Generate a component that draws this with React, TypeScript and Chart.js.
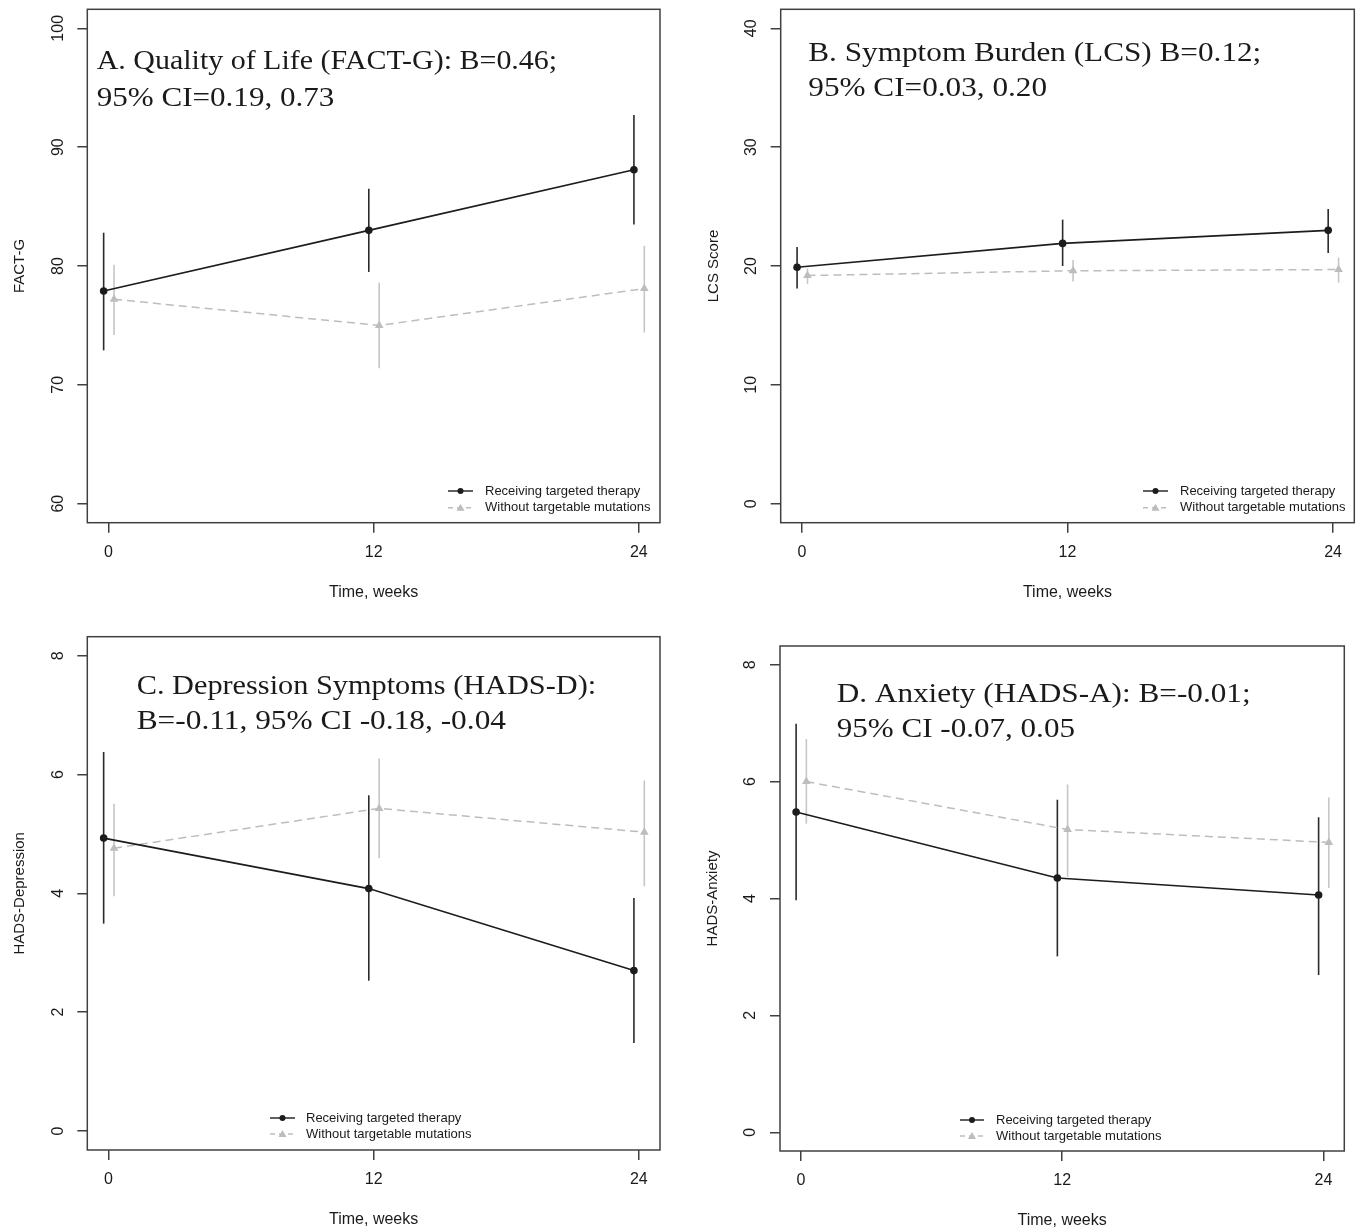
import React, { useEffect, useRef } from "react";
import { Chart, registerables } from "chart.js";

Chart.register(...registerables);

// ---------- data ----------
const xTickValues = [0, 12, 24];
const targetedWeeks = [-0.22, 11.78, 23.78];
const noMutWeeks = [0.25, 12.25, 24.25];
const seriesLabels = ["Receiving targeted therapy", "Without targetable mutations"];

// A. Quality of Life (FACT-G)
const qolYTicks = [60, 70, 80, 90, 100];
const qolTargeted = [77.9, 83.0, 88.1];
const qolTargetedLow = [72.9, 79.5, 83.5];
const qolTargetedHigh = [82.8, 86.5, 92.7];
const qolNoMut = [77.2, 75.0, 78.1];
const qolNoMutLow = [74.2, 71.4, 74.4];
const qolNoMutHigh = [80.1, 78.6, 81.7];

// B. Symptom Burden (LCS)
const lcsYTicks = [0, 10, 20, 30, 40];
const lcsTargeted = [19.9, 21.9, 23.0];
const lcsTargetedLow = [18.1, 20.0, 21.1];
const lcsTargetedHigh = [21.6, 23.9, 24.8];
const lcsNoMut = [19.2, 19.6, 19.7];
const lcsNoMutLow = [18.5, 18.7, 18.6];
const lcsNoMutHigh = [19.8, 20.5, 20.7];

// C. Depression (HADS-D)
const depYTicks = [0, 2, 4, 6, 8];
const depTargeted = [4.93, 4.08, 2.7];
const depTargetedLow = [3.49, 2.53, 1.48];
const depTargetedHigh = [6.38, 5.65, 3.92];
const depNoMut = [4.76, 5.43, 5.03];
const depNoMutLow = [3.95, 4.59, 4.12];
const depNoMutHigh = [5.51, 6.27, 5.9];

// D. Anxiety (HADS-A)
const anxYTicks = [0, 2, 4, 6, 8];
const anxTargeted = [5.48, 4.35, 4.06];
const anxTargetedLow = [3.97, 3.01, 2.69];
const anxTargetedHigh = [6.99, 5.69, 5.39];
const anxNoMut = [6.0, 5.18, 4.96];
const anxNoMutLow = [5.28, 4.37, 4.18];
const anxNoMutHigh = [6.73, 5.95, 5.73];

const titleA = ["A. Quality of Life (FACT-G): B=0.46;", "95% CI=0.19, 0.73"];
const titleB = ["B. Symptom Burden (LCS) B=0.12;", "95% CI=0.03, 0.20"];
const titleC = ["C. Depression Symptoms (HADS-D):", "B=-0.11, 95% CI -0.18, -0.04"];
const titleD = ["D. Anxiety (HADS-A): B=-0.01;", "95% CI -0.07, 0.05"];

// ---------- styles ----------
const BLACK = "#1c1c1c";
const GRAY = "#bdbdbd";
const GRAY_BAR = "#c6c6c6";
const AXIS = "#404040";
const TEXT = "#1a1a1a";
const SANS = '"Liberation Sans", Arial, sans-serif';
const SERIF = '"Liberation Serif", "Times New Roman", serif';
const TITLE_SIZE = 28;

type Series = { xs: number[]; mean: number[]; low: number[]; high: number[] };

type PanelCfg = {
  left: number; top: number; width: number; height: number;
  boxLeft: number; boxTop: number; boxRight: number; boxBottom: number;
  xMin: number; xMax: number;
  yMin: number; yMax: number; yTicks: number[]; yTitle: string;
  title: string[]; titleX: number; titleY: number[]; titleStretch: number[];
  legendY: number[]; legendX1: number; legendX2: number; legendTextX: number;
  targeted: Series; noMut: Series;
};

const panels: PanelCfg[] = [
  {
    left: 0, top: 0, width: 681, height: 615,
    boxLeft: 87.3, boxTop: 9.3, boxRight: 660, boxBottom: 522.7,
    xMin: -0.96, xMax: 24.96,
    yMin: 58.4, yMax: 101.6, yTicks: qolYTicks, yTitle: "FACT-G",
    title: titleA, titleX: 9.4, titleY: [59.5, 96.5], titleStretch: [1.07, 1.11],
    legendY: [491, 507.7], legendX1: 448, legendX2: 473, legendTextX: 485,
    targeted: { xs: targetedWeeks, mean: qolTargeted, low: qolTargetedLow, high: qolTargetedHigh },
    noMut: { xs: noMutWeeks, mean: qolNoMut, low: qolNoMutLow, high: qolNoMutHigh },
  },
  {
    left: 681, top: 0, width: 681, height: 615,
    boxLeft: 99.7, boxTop: 9.3, boxRight: 673.3, boxBottom: 522.7,
    xMin: -0.96, xMax: 24.96,
    yMin: -1.6, yMax: 41.6, yTicks: lcsYTicks, yTitle: "LCS Score",
    title: titleB, titleX: 27.6, titleY: [52, 87], titleStretch: [1.115, 1.115],
    legendY: [491, 507.7], legendX1: 462, legendX2: 487, legendTextX: 499,
    targeted: { xs: targetedWeeks, mean: lcsTargeted, low: lcsTargetedLow, high: lcsTargetedHigh },
    noMut: { xs: noMutWeeks, mean: lcsNoMut, low: lcsNoMutLow, high: lcsNoMutHigh },
  },
  {
    left: 0, top: 615, width: 681, height: 615,
    boxLeft: 87.3, boxTop: 21.7, boxRight: 660, boxBottom: 535,
    xMin: -0.96, xMax: 24.96,
    yMin: -0.32, yMax: 8.32, yTicks: depYTicks, yTitle: "HADS-Depression",
    title: titleC, titleX: 49.4, titleY: [57.5, 92.5], titleStretch: [1.082, 1.12],
    legendY: [503, 519], legendX1: 270, legendX2: 295, legendTextX: 306,
    targeted: { xs: targetedWeeks, mean: depTargeted, low: depTargetedLow, high: depTargetedHigh },
    noMut: { xs: noMutWeeks, mean: depNoMut, low: depNoMutLow, high: depNoMutHigh },
  },
  {
    left: 681, top: 615, width: 681, height: 615,
    boxLeft: 99, boxTop: 31, boxRight: 663.3, boxBottom: 536,
    xMin: -0.96, xMax: 24.96,
    yMin: -0.32, yMax: 8.32, yTicks: anxYTicks, yTitle: "HADS-Anxiety",
    title: titleD, titleX: 56.7, titleY: [56, 91], titleStretch: [1.115, 1.11],
    legendY: [505, 521], legendX1: 279, legendX2: 303, legendTextX: 315,
    targeted: { xs: targetedWeeks, mean: anxTargeted, low: anxTargetedLow, high: anxTargetedHigh },
    noMut: { xs: noMutWeeks, mean: anxNoMut, low: anxNoMutLow, high: anxNoMutHigh },
  },
];

function makeDecor(cfg: PanelCfg) {
  return {
    id: "decor",
    beforeDatasetsDraw(chart: any) {
      const ctx = chart.ctx;
      const xs = chart.scales.x;
      const ys = chart.scales.y;
      ctx.save();
      const bars: [Series, string][] = [[cfg.noMut, GRAY_BAR], [cfg.targeted, "#2a2a2a"]];
      for (const [s, col] of bars) {
        ctx.strokeStyle = col;
        ctx.lineWidth = 1.6;
        for (let i = 0; i < s.xs.length; i++) {
          const px = xs.getPixelForValue(s.xs[i]);
          ctx.beginPath();
          ctx.moveTo(px, ys.getPixelForValue(s.low[i]));
          ctx.lineTo(px, ys.getPixelForValue(s.high[i]));
          ctx.stroke();
        }
      }
      ctx.restore();
    },
    afterDraw(chart: any) {
      const ctx = chart.ctx;
      const a = chart.chartArea;
      const xs = chart.scales.x;
      const ys = chart.scales.y;
      ctx.save();
      // box
      ctx.strokeStyle = AXIS;
      ctx.lineWidth = 1.5;
      ctx.strokeRect(a.left, a.top, a.right - a.left, a.bottom - a.top);
      // y tick labels (rotated)
      ctx.fillStyle = TEXT;
      ctx.font = `16px ${SANS}`;
      ctx.textAlign = "center";
      ctx.textBaseline = "middle";
      for (const t of ys.ticks) {
        const py = ys.getPixelForValue(t.value);
        ctx.save();
        ctx.translate(a.left - 29, py);
        ctx.rotate(-Math.PI / 2);
        ctx.fillText(String(t.value), 0, 0);
        ctx.restore();
      }
      // y title
      ctx.save();
      ctx.translate(a.left - 67, (a.top + a.bottom) / 2);
      ctx.rotate(-Math.PI / 2);
      ctx.font = `15px ${SANS}`;
      ctx.fillText(cfg.yTitle, 0, 0);
      ctx.restore();
      // x tick labels
      ctx.font = `16px ${SANS}`;
      for (const t of xs.ticks) {
        const px = xs.getPixelForValue(t.value);
        ctx.fillText(String(t.value), px, a.bottom + 30);
      }
      ctx.fillText("Time, weeks", (a.left + a.right) / 2, a.bottom + 70);
      // panel title
      ctx.font = `${TITLE_SIZE}px ${SERIF}`;
      ctx.textAlign = "left";
      ctx.textBaseline = "alphabetic";
      cfg.title.forEach((line, i) => {
        ctx.save();
        ctx.translate(a.left + cfg.titleX, a.top + cfg.titleY[i]);
        ctx.scale(cfg.titleStretch[i], 1);
        ctx.fillText(line, 0, 0);
        ctx.restore();
      });
      // legend
      const styles = [
        { color: BLACK, dash: [] as number[], shape: "circle" },
        { color: GRAY, dash: [5, 4], shape: "triangle" },
      ];
      styles.forEach((st, i) => {
        const y = cfg.legendY[i];
        ctx.strokeStyle = st.color;
        ctx.fillStyle = st.color;
        ctx.lineWidth = 1.4;
        ctx.setLineDash(st.dash);
        ctx.beginPath();
        ctx.moveTo(cfg.legendX1, y);
        ctx.lineTo(cfg.legendX2, y);
        ctx.stroke();
        ctx.setLineDash([]);
        const mx = (cfg.legendX1 + cfg.legendX2) / 2;
        ctx.beginPath();
        if (st.shape === "circle") {
          ctx.arc(mx, y, 3, 0, Math.PI * 2);
        } else {
          ctx.moveTo(mx, y - 4);
          ctx.lineTo(mx + 4, y + 3);
          ctx.lineTo(mx - 4, y + 3);
          ctx.closePath();
        }
        ctx.fill();
        ctx.fillStyle = TEXT;
        ctx.font = `13px ${SANS}`;
        ctx.textBaseline = "middle";
        ctx.fillText(seriesLabels[i], cfg.legendTextX, y);
      });
      ctx.restore();
    },
  };
}

function Panel({ cfg }: { cfg: PanelCfg }) {
  const ref = useRef<HTMLCanvasElement | null>(null);
  useEffect(() => {
    if (!ref.current) return;
    const toPts = (s: Series) => s.xs.map((x, i) => ({ x, y: s.mean[i] }));
    const tickGrid = {
      display: true,
      drawOnChartArea: false,
      drawTicks: true,
      tickLength: 10,
      tickColor: AXIS,
      tickWidth: 1.5,
      color: AXIS,
      lineWidth: 1.5,
    };
    const chart = new Chart(ref.current, {
      type: "line",
      data: {
        datasets: [
          {
            label: seriesLabels[0],
            data: toPts(cfg.targeted),
            borderColor: BLACK,
            backgroundColor: BLACK,
            borderWidth: 1.6,
            pointStyle: "circle",
            pointRadius: 3.8,
            pointBorderWidth: 0,
            pointBackgroundColor: BLACK,
            tension: 0,
          },
          {
            label: seriesLabels[1],
            data: toPts(cfg.noMut),
            borderColor: GRAY,
            backgroundColor: GRAY,
            borderWidth: 1.5,
            borderDash: [8, 5],
            pointStyle: "triangle",
            pointRadius: 5,
            pointBorderWidth: 0,
            pointBackgroundColor: GRAY,
            tension: 0,
          },
        ],
      },
      options: {
        animation: false,
        responsive: false,
        devicePixelRatio: 1,
        layout: {
          padding: {
            left: 0,
            top: cfg.boxTop,
            right: cfg.width - cfg.boxRight,
            bottom: 0,
          },
        },
        plugins: {
          legend: { display: false },
          tooltip: { enabled: false },
          title: { display: false },
        },
        scales: {
          x: {
            type: "linear",
            position: "bottom",
            min: cfg.xMin,
            max: cfg.xMax,
            afterBuildTicks: (s: any) => {
              s.ticks = xTickValues.map((v) => ({ value: v }));
            },
            afterFit: (s: any) => {
              s.height = cfg.height - cfg.boxBottom;
            },
            ticks: { display: false },
            grid: tickGrid,
            border: { display: false },
          },
          y: {
            type: "linear",
            position: "left",
            min: cfg.yMin,
            max: cfg.yMax,
            afterBuildTicks: (s: any) => {
              s.ticks = cfg.yTicks.map((v) => ({ value: v }));
            },
            afterFit: (s: any) => {
              s.width = cfg.boxLeft;
            },
            ticks: { display: false },
            grid: tickGrid,
            border: { display: false },
          },
        },
      } as any,
      plugins: [makeDecor(cfg)],
    });
    return () => chart.destroy();
  }, [cfg]);
  return (
    <canvas
      ref={ref}
      width={cfg.width}
      height={cfg.height}
      style={{
        position: "absolute",
        left: cfg.left,
        top: cfg.top,
        width: cfg.width,
        height: cfg.height,
      }}
    />
  );
}

export default function App() {
  return (
    <div
      style={{
        position: "absolute",
        left: 0,
        top: 0,
        width: 1362,
        height: 1230,
        background: "#ffffff",
        overflow: "hidden",
      }}
    >
      {panels.map((p, i) => (
        <Panel key={i} cfg={p} />
      ))}
    </div>
  );
}
